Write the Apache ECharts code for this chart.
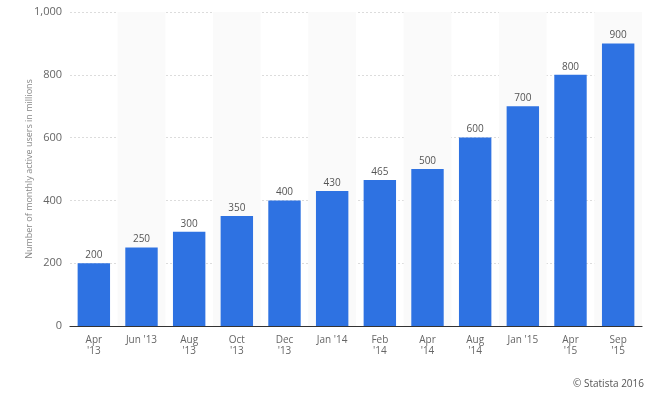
<!DOCTYPE html>
<html>
<head>
<meta charset="utf-8">
<script src="https://cdn.jsdelivr.net/npm/echarts@6/dist/echarts.min.js"></script>
<style>html,body{margin:0;padding:0;background:#fff;}#c{width:650px;height:393px;}</style>
</head>
<body>
<div id="c"></div>
<script>
const categories = ["Apr\n'13", "Jun '13", "Aug\n'13", "Oct\n'13", "Dec\n'13", "Jan '14", "Feb\n'14", "Apr\n'14", "Aug\n'14", "Jan '15", "Apr\n'15", "Sep\n'15"];
const users = [200, 250, 300, 350, 400, 430, 465, 500, 600, 700, 800, 900];
const yTicks = { min: 0, max: 1000, interval: 200 };
const yAxisName = 'Number of monthly active users in millions';
const credit = '© Statista 2016';

const chart = echarts.init(document.getElementById('c'), null, { renderer: 'canvas' });
chart.setOption({
  animation: false,
  backgroundColor: '#fff',
  textStyle: { fontFamily: 'Open Sans, Lato, sans-serif' },
  grid: { left: 70, right: 8, top: 12, bottom: 67 },
  graphic: [{
    type: 'text', right: 6, bottom: 4,
    style: { text: credit, fill: '#555', font: '10px "Open Sans", sans-serif' }
  }],
  xAxis: {
    type: 'category',
    data: categories,
    axisLine: { lineStyle: { color: '#333', width: 1.2 } },
    axisTick: { show: false },
    axisLabel: { color: '#666', fontSize: 10, lineHeight: 11, margin: 9, interval: 0 },
    splitArea: { show: true, areaStyle: { color: ['rgba(255,255,255,0)', '#fafafa'] } }
  },
  yAxis: {
    type: 'value',
    min: yTicks.min, max: yTicks.max, interval: yTicks.interval,
    name: yAxisName,
    nameLocation: 'middle',
    nameGap: 36,
    nameMoveOverlap: false,
    nameTextStyle: { color: '#888', fontSize: 9 },
    axisLine: { show: false },
    axisTick: { show: false },
    axisLabel: {
      color: '#666', fontSize: 11, margin: 8,
      formatter: v => v.toLocaleString('en-US')
    },
    splitLine: { lineStyle: { color: '#dcdcdc', type: [2, 2] } }
  },
  series: [{
    type: 'bar',
    data: users,
    barWidth: '68%',
    itemStyle: { color: '#2e72e2' },
    label: { show: true, position: 'top', color: '#555', fontSize: 10, distance: 3 }
  }]
});
</script>
</body>
</html>
